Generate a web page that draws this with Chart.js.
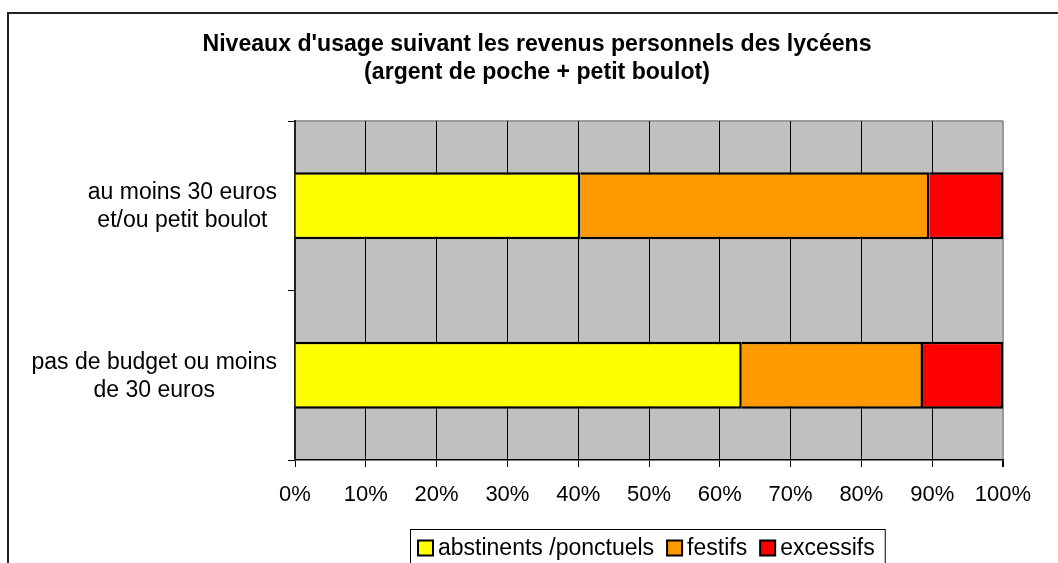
<!DOCTYPE html>
<html>
<head>
<meta charset="utf-8">
<script src="https://cdn.jsdelivr.net/npm/chart.js@4/dist/chart.umd.min.js"></script>
<style>
  html, body { margin: 0; padding: 0; background: #fff; }
  canvas { display: block; }
</style>
</head>
<body>
<canvas id="chart" width="1058" height="563"></canvas>
<script>
  // ── Data ───────────────────────────────────────────────────────
  const categories = [
    ['au moins 30 euros', 'et/ou petit boulot'],
    ['pas de budget ou moins', 'de 30 euros'],
  ];
  const seriesNames = ['abstinents /ponctuels', 'festifs', 'excessifs'];
  const abstinents = [40.3, 63.1];
  const festifs = [49.3, 25.6];
  const excessifs = [10.4, 11.3];
  const titleLines = [
    "Niveaux d'usage suivant les revenus personnels des lycéens",
    '(argent de poche + petit boulot)',
  ];
  const colors = ['#FFFF00', '#FF9900', '#FF0000'];

  const FONT = '"Liberation Sans", Arial, sans-serif';

  // ── Decorations: frame, plot background, labels, legend ────────
  const decor = {
    id: 'decor',
    beforeDraw(chart) {
      const { ctx, chartArea: a } = chart;
      ctx.save();
      ctx.fillStyle = '#fff';
      ctx.fillRect(0, 0, chart.width, chart.height);
      ctx.strokeStyle = '#222';
      ctx.lineWidth = 2;
      ctx.strokeRect(8, 13, 1200, 1000);
      ctx.fillStyle = '#C0C0C0';
      ctx.fillRect(a.left, a.top, a.right - a.left, a.bottom - a.top);
      ctx.strokeStyle = '#9a9a9a';
      ctx.lineWidth = 2;
      ctx.beginPath();
      ctx.moveTo(a.left, a.top);
      ctx.lineTo(a.right, a.top);
      ctx.stroke();
      ctx.restore();
    },
    afterDraw(chart) {
      const { ctx, chartArea: a } = chart;
      const ys = chart.scales.y;
      ctx.save();

      // category labels: block right-aligned, lines centred within block
      ctx.font = '23px ' + FONT;
      ctx.fillStyle = '#000';
      ctx.textAlign = 'center';
      ctx.textBaseline = 'middle';
      const lineH = 28;
      categories.forEach((lines, i) => {
        const cy = ys.getPixelForTick(i);
        const w = Math.max(...lines.map(l => ctx.measureText(l).width));
        const cx = a.left - 18 - w / 2;
        lines.forEach((l, j) => {
          ctx.fillText(l, cx, cy + 1 + (j - (lines.length - 1) / 2) * lineH);
        });
      });

      // legend
      ctx.font = '23px ' + FONT;
      const sq = 15, gapText = 5, gapItem = 13, padL = 8, padR = 10;
      const widths = seriesNames.map(n => sq + gapText + ctx.measureText(n).width);
      const total = padL + widths.reduce((s, w) => s + w, 0) + gapItem * (widths.length - 1) + padR;
      const boxLeft = Math.round((a.left + a.right) / 2 - total / 2) - 2;
      const boxTop = 529;
      ctx.strokeStyle = '#000';
      ctx.lineWidth = 1;
      ctx.strokeRect(boxLeft + 0.5, boxTop + 0.5, total, 80);
      let x = boxLeft + padL;
      const midY = 548;
      ctx.textAlign = 'left';
      seriesNames.forEach((n, i) => {
        ctx.fillStyle = colors[i];
        ctx.fillRect(x, midY - sq / 2, sq, sq);
        ctx.lineWidth = 2;
        ctx.strokeRect(x, midY - sq / 2, sq, sq);
        ctx.fillStyle = '#000';
        ctx.fillText(n, x + sq + gapText, midY + 1);
        x += widths[i] + gapItem;
      });
      ctx.restore();
    },
  };

  // ── Chart ──────────────────────────────────────────────────────
  const datasets = [abstinents, festifs, excessifs].map((vals, i) => ({
    label: seriesNames[i],
    data: vals,
    backgroundColor: colors[i],
    borderColor: '#000',
    borderWidth: 2.5,
    barPercentage: 0.395,
    categoryPercentage: 1,
  }));

  new Chart(document.getElementById('chart'), {
    type: 'bar',
    data: { labels: categories, datasets },
    plugins: [decor],
    options: {
      indexAxis: 'y',
      responsive: false,
      animation: false,
      layout: { padding: { left: 71, right: 55, top: 0, bottom: 0 } },
      plugins: {
        legend: { display: false },
        tooltip: { enabled: false },
        title: {
          display: true,
          text: titleLines,
          color: '#000',
          font: { family: FONT, size: 23.1, weight: 'bold', lineHeight: 27.5 / 23.1 },
          padding: { top: 31, bottom: 35 },
        },
      },
      scales: {
        x: {
          stacked: true,
          min: 0,
          max: 100,
          ticks: {
            stepSize: 10,
            autoSkip: false,
            maxRotation: 0,
            padding: 15,
            color: '#000',
            font: { family: FONT, size: 22 },
            callback: v => v + '%',
          },
          grid: {
            color: c => (c.index === 10 ? '#9a9a9a' : '#000'),
            lineWidth: c => (c.index === 10 ? 2 : 1),
            tickLength: 7,
            tickColor: '#000',
          },
          border: { color: '#000', width: 1.5 },
          afterFit(s) { s.height = 103; },
        },
        y: {
          stacked: true,
          ticks: { display: false },
          grid: { drawOnChartArea: false, tickLength: 7, color: '#000' },
          border: { color: '#222', width: 2 },
          afterFit(s) { s.width = 224; },
        },
      },
    },
  });
</script>
</body>
</html>
